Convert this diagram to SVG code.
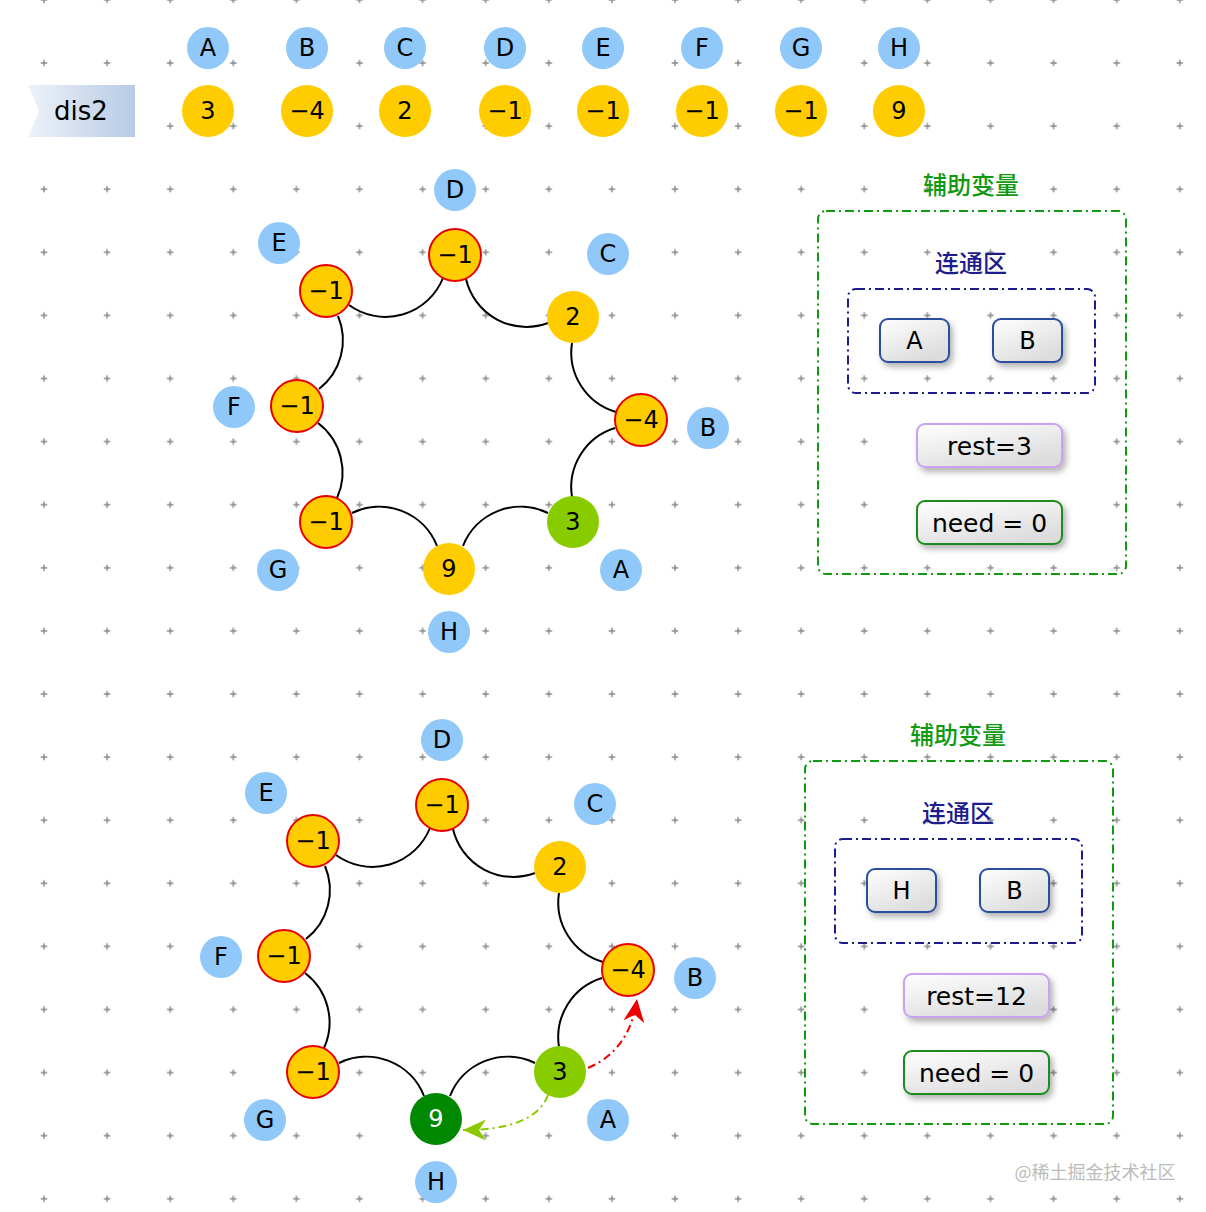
<svg xmlns="http://www.w3.org/2000/svg" width="1206" height="1212" viewBox="0 0 1206 1212">
<defs>
<style>
.lbl{fill:#90c9f9}
.val{fill:#ffcc00}
.neg{fill:#ffcc00;stroke:#e80000;stroke-width:2}
.t{font-family:"DejaVu Sans","Noto Sans",sans-serif;font-size:24px;fill:#000;text-anchor:middle;dominant-baseline:central}
.cn{font-family:"Noto Sans CJK SC",sans-serif;font-size:24px;font-weight:500;text-anchor:middle;dominant-baseline:central}
.edge{fill:none;stroke:#000;stroke-width:2}
.box{fill:url(#boxg);filter:url(#sh)}
</style>
<pattern id="grid" x="12.45" y="31.45" width="63.1" height="63.1" patternUnits="userSpaceOnUse">
<path d="M28.3,31.55H34.8M31.55,28.3V34.8" stroke="#888" stroke-width="1.4"/>
</pattern>
<linearGradient id="ban" x1="0" y1="0" x2="1" y2="0">
<stop offset="0" stop-color="#eef2f9"/>
<stop offset="1" stop-color="#b7cbe5"/>
</linearGradient>
<linearGradient id="boxg" x1="0" y1="0" x2="0.6" y2="1">
<stop offset="0" stop-color="#ffffff"/>
<stop offset="1" stop-color="#dcdcdc"/>
</linearGradient>
<filter id="sh" x="-20%" y="-30%" width="150%" height="170%">
<feDropShadow dx="3" dy="4" stdDeviation="3" flood-color="#000" flood-opacity="0.3"/>
</filter>
<marker id="arrR" markerUnits="userSpaceOnUse" markerWidth="26" markerHeight="24" viewBox="-24 -12 26 24" refX="0" refY="0" orient="auto">
<path d="M0,0 L-23,-10.5 L-16,0 L-23,10.5 Z" fill="#ee0000"/>
</marker>
<marker id="arrG" markerUnits="userSpaceOnUse" markerWidth="26" markerHeight="24" viewBox="-24 -12 26 24" refX="0" refY="0" orient="auto">
<path d="M0,0 L-23,-10.5 L-16,0 L-23,10.5 Z" fill="#8cc800"/>
</marker>
</defs>
<rect width="1206" height="1212" fill="#fff"/>
<rect width="1206" height="1212" fill="url(#grid)"/>

<!-- header -->
<g id="dis2">
<path d="M28,85 H135 V137 H28 L39,111 Z" fill="url(#ban)"/>
<text class="t" x="81" y="111" style="font-size:26px">dis2</text>
</g>
<g id="top-labels">
<g id="lA"><circle class="lbl" cx="208" cy="48" r="21"/><text class="t" x="208" y="48">A</text></g>
<g id="lB"><circle class="lbl" cx="307" cy="48" r="21"/><text class="t" x="307" y="48">B</text></g>
<g id="lC"><circle class="lbl" cx="405" cy="48" r="21"/><text class="t" x="405" y="48">C</text></g>
<g id="lD"><circle class="lbl" cx="505" cy="48" r="21"/><text class="t" x="505" y="48">D</text></g>
<g id="lE"><circle class="lbl" cx="603" cy="48" r="21"/><text class="t" x="603" y="48">E</text></g>
<g id="lF"><circle class="lbl" cx="702" cy="48" r="21"/><text class="t" x="702" y="48">F</text></g>
<g id="lG"><circle class="lbl" cx="801" cy="48" r="21"/><text class="t" x="801" y="48">G</text></g>
<g id="lH"><circle class="lbl" cx="899" cy="48" r="21"/><text class="t" x="899" y="48">H</text></g>
</g>
<g id="top-values">
<g id="vA"><circle class="val" cx="208" cy="111" r="26"/><text class="t" x="208" y="111">3</text></g>
<g id="vB"><circle class="val" cx="307" cy="111" r="26"/><text class="t" x="307" y="111">−4</text></g>
<g id="vC"><circle class="val" cx="405" cy="111" r="26"/><text class="t" x="405" y="111">2</text></g>
<g id="vD"><circle class="val" cx="505" cy="111" r="26"/><text class="t" x="505" y="111">−1</text></g>
<g id="vE"><circle class="val" cx="603" cy="111" r="26"/><text class="t" x="603" y="111">−1</text></g>
<g id="vF"><circle class="val" cx="702" cy="111" r="26"/><text class="t" x="702" y="111">−1</text></g>
<g id="vG"><circle class="val" cx="801" cy="111" r="26"/><text class="t" x="801" y="111">−1</text></g>
<g id="vH"><circle class="val" cx="899" cy="111" r="26"/><text class="t" x="899" y="111">9</text></g>
</g>

<!-- ring 1 -->
<g id="ring1">
<g id="ring1-connectors">
<path class="edge" d="M349,305 A62,62 0 0 0 443,278"/>
<path class="edge" d="M466,279 A62,62 0 0 0 548,323"/>
<path class="edge" d="M572,343 A62,62 0 0 0 616,412"/>
<path class="edge" d="M615,428 A62,62 0 0 0 572,497"/>
<path class="edge" d="M548,513 A62,62 0 0 0 463,546"/>
<path class="edge" d="M437,546 A62,62 0 0 0 352,513"/>
<path class="edge" d="M337,498 A62,62 0 0 0 318,423"/>
<path class="edge" d="M319,389 A62,62 0 0 0 338,316"/>
</g>
<g id="r1-D"><circle class="neg" cx="455" cy="255" r="26"/><text class="t" x="455" y="255">−1</text></g>
<g id="r1-C"><circle class="val" cx="573" cy="317" r="26"/><text class="t" x="573" y="317">2</text></g>
<g id="r1-B"><circle class="neg" cx="641" cy="420" r="26"/><text class="t" x="641" y="420">−4</text></g>
<g id="r1-A"><circle cx="573" cy="522" r="26" fill="#88cc00"/><text class="t" x="573" y="522">3</text></g>
<g id="r1-H"><circle class="val" cx="449" cy="569" r="26"/><text class="t" x="449" y="569">9</text></g>
<g id="r1-G"><circle class="neg" cx="326" cy="522" r="26"/><text class="t" x="326" y="522">−1</text></g>
<g id="r1-F"><circle class="neg" cx="297" cy="406" r="26"/><text class="t" x="297" y="406">−1</text></g>
<g id="r1-E"><circle class="neg" cx="326" cy="291" r="26"/><text class="t" x="326" y="291">−1</text></g>
<g id="r1-lD"><circle class="lbl" cx="455" cy="190" r="21"/><text class="t" x="455" y="190">D</text></g>
<g id="r1-lC"><circle class="lbl" cx="608" cy="254" r="21"/><text class="t" x="608" y="254">C</text></g>
<g id="r1-lB"><circle class="lbl" cx="708" cy="428" r="21"/><text class="t" x="708" y="428">B</text></g>
<g id="r1-lA"><circle class="lbl" cx="621" cy="570" r="21"/><text class="t" x="621" y="570">A</text></g>
<g id="r1-lH"><circle class="lbl" cx="449" cy="632" r="21"/><text class="t" x="449" y="632">H</text></g>
<g id="r1-lG"><circle class="lbl" cx="278" cy="570" r="21"/><text class="t" x="278" y="570">G</text></g>
<g id="r1-lF"><circle class="lbl" cx="234" cy="407" r="21"/><text class="t" x="234" y="407">F</text></g>
<g id="r1-lE"><circle class="lbl" cx="279" cy="243" r="21"/><text class="t" x="279" y="243">E</text></g>
</g>

<g id="aux1">
<text class="cn" x="971" y="183" fill="#119911">辅助变量</text>
<rect x="818" y="211" width="308" height="363" rx="8" fill="none" stroke="#119911" stroke-width="2" stroke-dasharray="9 4 2 4"/>
<text class="cn" x="971" y="261" fill="#1c1c8c">连通区</text>
<rect x="848" y="289" width="247" height="104" rx="8" fill="none" stroke="#1c1c8c" stroke-width="2" stroke-dasharray="9 4 2 4"/>
<g id="a1-A"><rect class="box" x="880" y="319" width="69" height="43" rx="8" stroke="#2a4f9e" stroke-width="2"/><text class="t" x="914.5" y="341">A</text></g>
<g id="a1-B"><rect class="box" x="993" y="319" width="69" height="43" rx="8" stroke="#2a4f9e" stroke-width="2"/><text class="t" x="1027.5" y="341">B</text></g>
<g id="a1-rest"><rect class="box" x="917" y="424" width="145" height="43" rx="8" stroke="#c9a2f0" stroke-width="2"/><text class="t" x="989.5" y="446" style="font-size:25px">rest=3</text></g>
<g id="a1-need"><rect class="box" x="917" y="501" width="145" height="43" rx="8" stroke="#1c8c1c" stroke-width="2"/><text class="t" x="989.5" y="523" style="font-size:25px">need = 0</text></g>
</g>

<!-- ring 2 -->
<g id="ring2" transform="translate(-13,550)">
<g id="ring2-connectors">
<path class="edge" d="M349,305 A62,62 0 0 0 443,278"/>
<path class="edge" d="M466,279 A62,62 0 0 0 548,323"/>
<path class="edge" d="M572,343 A62,62 0 0 0 616,412"/>
<path class="edge" d="M615,428 A62,62 0 0 0 572,497"/>
<path class="edge" d="M548,513 A62,62 0 0 0 463,546"/>
<path class="edge" d="M437,546 A62,62 0 0 0 352,513"/>
<path class="edge" d="M337,498 A62,62 0 0 0 318,423"/>
<path class="edge" d="M319,389 A62,62 0 0 0 338,316"/>
<path d="M601,518 Q643,500 650,449" fill="none" stroke="#ee0000" stroke-width="2" stroke-dasharray="8 4 2 4" marker-end="url(#arrR)"/>
<path d="M561,545 Q548,580 476,580" fill="none" stroke="#8cc800" stroke-width="2" stroke-dasharray="8 4 2 4" marker-end="url(#arrG)"/>
</g>
<g id="r2-D"><circle class="neg" cx="455" cy="255" r="26"/><text class="t" x="455" y="255">−1</text></g>
<g id="r2-C"><circle class="val" cx="573" cy="317" r="26"/><text class="t" x="573" y="317">2</text></g>
<g id="r2-B"><circle class="neg" cx="641" cy="420" r="26"/><text class="t" x="641" y="420">−4</text></g>
<g id="r2-A"><circle cx="573" cy="522" r="26" fill="#88cc00"/><text class="t" x="573" y="522">3</text></g>
<g id="r2-H"><circle cx="449" cy="569" r="26" fill="#008800"/><text class="t" x="449" y="569" style="fill:#fff">9</text></g>
<g id="r2-G"><circle class="neg" cx="326" cy="522" r="26"/><text class="t" x="326" y="522">−1</text></g>
<g id="r2-F"><circle class="neg" cx="297" cy="406" r="26"/><text class="t" x="297" y="406">−1</text></g>
<g id="r2-E"><circle class="neg" cx="326" cy="291" r="26"/><text class="t" x="326" y="291">−1</text></g>
<g id="r2-lD"><circle class="lbl" cx="455" cy="190" r="21"/><text class="t" x="455" y="190">D</text></g>
<g id="r2-lC"><circle class="lbl" cx="608" cy="254" r="21"/><text class="t" x="608" y="254">C</text></g>
<g id="r2-lB"><circle class="lbl" cx="708" cy="428" r="21"/><text class="t" x="708" y="428">B</text></g>
<g id="r2-lA"><circle class="lbl" cx="621" cy="570" r="21"/><text class="t" x="621" y="570">A</text></g>
<g id="r2-lH"><circle class="lbl" cx="449" cy="632" r="21"/><text class="t" x="449" y="632">H</text></g>
<g id="r2-lG"><circle class="lbl" cx="278" cy="570" r="21"/><text class="t" x="278" y="570">G</text></g>
<g id="r2-lF"><circle class="lbl" cx="234" cy="407" r="21"/><text class="t" x="234" y="407">F</text></g>
<g id="r2-lE"><circle class="lbl" cx="279" cy="243" r="21"/><text class="t" x="279" y="243">E</text></g>
</g>

<g id="aux2" transform="translate(-13,550)">
<text class="cn" x="971" y="183" fill="#119911">辅助变量</text>
<rect x="818" y="211" width="308" height="363" rx="8" fill="none" stroke="#119911" stroke-width="2" stroke-dasharray="9 4 2 4"/>
<text class="cn" x="971" y="261" fill="#1c1c8c">连通区</text>
<rect x="848" y="289" width="247" height="104" rx="8" fill="none" stroke="#1c1c8c" stroke-width="2" stroke-dasharray="9 4 2 4"/>
<g id="a2-H"><rect class="box" x="880" y="319" width="69" height="43" rx="8" stroke="#2a4f9e" stroke-width="2"/><text class="t" x="914.5" y="341">H</text></g>
<g id="a2-B"><rect class="box" x="993" y="319" width="69" height="43" rx="8" stroke="#2a4f9e" stroke-width="2"/><text class="t" x="1027.5" y="341">B</text></g>
<g id="a2-rest"><rect class="box" x="917" y="424" width="145" height="43" rx="8" stroke="#c9a2f0" stroke-width="2"/><text class="t" x="989.5" y="446" style="font-size:25px">rest=12</text></g>
<g id="a2-need"><rect class="box" x="917" y="501" width="145" height="43" rx="8" stroke="#1c8c1c" stroke-width="2"/><text class="t" x="989.5" y="523" style="font-size:25px">need = 0</text></g>
</g>

<text x="1095" y="1171" font-family="'Noto Sans CJK SC',sans-serif" font-size="18" fill="#bbbbbb" text-anchor="middle" dominant-baseline="central">@稀土掘金技术社区</text>
</svg>
